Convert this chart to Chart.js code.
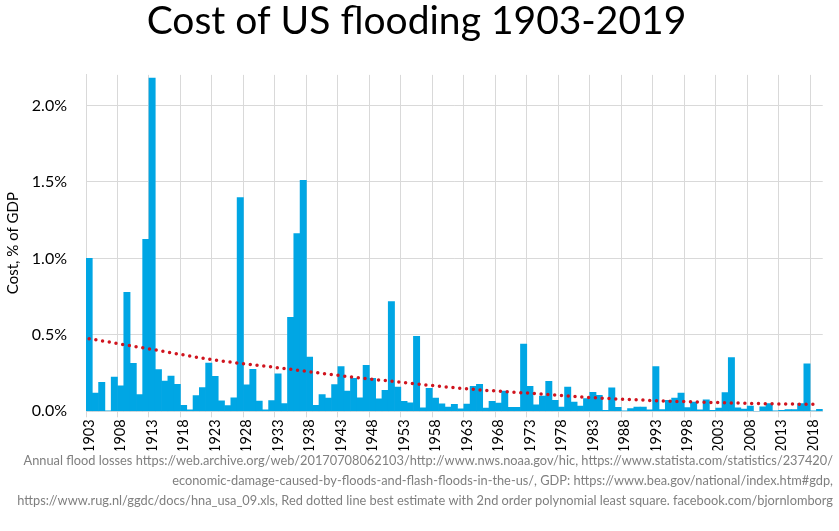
<!DOCTYPE html>
<html>
<head>
<meta charset="utf-8">
<title>Cost of US flooding 1903-2019</title>
<script src="https://cdn.jsdelivr.net/npm/chart.js@4.4.1/dist/chart.umd.min.js"></script>
<style>
    html, body { margin: 0; padding: 0; background: #fff; }
    #wrap { width: 839px; height: 531px; }
</style>
</head>
<body>
<div id="wrap"><canvas id="floodChart"></canvas></div>
<script>
// Years on the x axis, 1903..2019
const years = [];
for (let y = 1903; y <= 2019; y++) years.push(String(y));

// Flood cost, % of GDP
const costs = [
    1.0, 0.12, 0.19, 0.003, 0.224, 0.166, 0.778, 0.314, 0.11, 1.124,      // 1903-1912
    2.18, 0.273, 0.197, 0.23, 0.176, 0.04, 0.009, 0.103, 0.156, 0.315,    // 1913-1922
    0.229, 0.068, 0.037, 0.089, 1.398, 0.174, 0.274, 0.067, 0.01, 0.071,  // 1923-1932
    0.245, 0.051, 0.615, 1.163, 1.511, 0.354, 0.04, 0.11, 0.086, 0.175,   // 1933-1942
    0.293, 0.132, 0.215, 0.089, 0.3, 0.215, 0.082, 0.137, 0.717, 0.159,   // 1943-1952
    0.066, 0.055, 0.49, 0.023, 0.151, 0.086, 0.049, 0.028, 0.046, 0.016,  // 1953-1962
    0.048, 0.164, 0.177, 0.022, 0.065, 0.054, 0.132, 0.026, 0.026, 0.44,  // 1963-1972
    0.163, 0.043, 0.1, 0.196, 0.072, 0.028, 0.158, 0.06, 0.034, 0.083,    // 1973-1982
    0.124, 0.104, 0.007, 0.154, 0.026, 0.002, 0.018, 0.028, 0.028, 0.009, // 1983-1992
    0.293, 0.011, 0.072, 0.087, 0.12, 0.025, 0.06, 0.009, 0.076, 0.007,   // 1993-2002
    0.022, 0.123, 0.351, 0.023, 0.014, 0.035, 0.0, 0.03, 0.05, 0.003,     // 2003-2012
    0.007, 0.011, 0.011, 0.05, 0.311, 0.003, 0.013                        // 2013-2019
];

// Red dotted trend line, read at a few years
const trendYears = [1903, 1913, 1923, 1933, 1943, 1953, 1963, 1973, 1983, 1993, 2003, 2013, 2019];
const trendValues = [0.475, 0.405, 0.335, 0.285, 0.233, 0.188, 0.147, 0.118, 0.089, 0.07, 0.057, 0.048, 0.046];

const yTicks = [0, 0.5, 1.0, 1.5, 2.0];

const footnote = [
    'Annual flood losses https://web.archive.org/web/20170708062103/http://www.nws.noaa.gov/hic, https://www.statista.com/statistics/237420/',
    'economic-damage-caused-by-floods-and-flash-floods-in-the-us/, GDP: https://www.bea.gov/national/index.htm#gdp,',
    'https://www.rug.nl/ggdc/docs/hna_usa_09.xls, Red dotted line best estimate with 2nd order polynomial least square. facebook.com/bjornlomborg'
];

const trend = years.map(() => null);
trendYears.forEach((y, i) => { trend[y - 1903] = trendValues[i]; });

const gridGrey = '#d9d9d9';

const ctx = document.getElementById('floodChart').getContext('2d');
const floodChart = new Chart(ctx, {
    type: 'bar',
    data: {
        labels: years,
        datasets: [
            {
                type: 'line',
                label: 'Trend',
                data: trend,
                spanGaps: true,
                borderColor: '#d0141e',
                borderWidth: 3.5,
                borderDash: [0, 6.8],
                borderCapStyle: 'round',
                cubicInterpolationMode: 'monotone',
                pointRadius: 0,
                fill: false
            },
            {
                label: 'Cost, % of GDP',
                data: costs,
                backgroundColor: '#00a6e4',
                borderWidth: 0,
                barPercentage: 1.0,
                categoryPercentage: 1.0
            }
        ]
    },
    options: {
        responsive: true,
        maintainAspectRatio: false,
        animation: false,
        layout: { padding: { top: 0, right: 6, bottom: 20, left: 0 } },
        plugins: {
            legend: { display: false },
            tooltip: { enabled: false },
            title: {
                display: true,
                text: 'Cost of US flooding 1903-2019',
                color: '#000',
                font: { family: 'Lato', size: 39, weight: 'normal', lineHeight: 1.1 },
                padding: { top: 0, bottom: 32 }
            },
            subtitle: {
                display: true,
                position: 'bottom',
                align: 'end',
                text: footnote,
                color: '#7f7f7f',
                font: { family: 'Lato', size: 12.8, weight: 'normal', lineHeight: 1.58 },
                padding: { top: 0, bottom: 0 }
            }
        },
        scales: {
            x: {
                grid: {
                    offset: true,
                    color: c => (c.index % 5 === 0 ? gridGrey : 'rgba(0,0,0,0)'),
                    tickLength: 6
                },
                border: { color: gridGrey },
                ticks: {
                    autoSkip: false,
                    maxRotation: 90,
                    minRotation: 90,
                    padding: 2,
                    color: '#000',
                    font: { family: 'Lato', size: 14.5 },
                    callback: (v, i) => (i % 5 === 0 ? years[i] : '')
                },
                afterFit: s => { s.height = 39; }
            },
            y: {
                min: 0,
                max: 2.2,
                afterBuildTicks: s => { s.ticks = yTicks.map(v => ({ value: v })); },
                grid: { color: gridGrey, drawTicks: false },
                border: { color: gridGrey },
                ticks: {
                    padding: 19,
                    color: '#000',
                    font: { family: 'Lato', size: 16 },
                    callback: v => v.toFixed(1) + '%'
                },
                title: {
                    display: true,
                    text: 'Cost, % of GDP',
                    color: '#000',
                    font: { family: 'Lato', size: 15 },
                    padding: { top: 4, bottom: 4 }
                },
                afterFit: s => { s.width = 86; }
            }
        }
    }
});
</script>
</body>
</html>
